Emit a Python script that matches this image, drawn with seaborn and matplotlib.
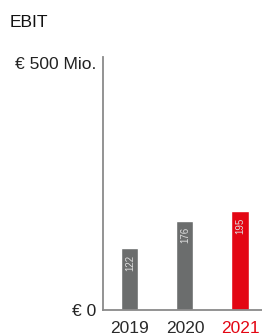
import matplotlib
matplotlib.use("Agg")
import matplotlib.pyplot as plt
import seaborn as sns
import pandas as pd

years = ["2019", "2020", "2021"]
ebit = [122, 176, 195]
bar_colors = ["#6b6d6d", "#6b6d6d", "#e30613"]
label_colors = ["#2a2a2a", "#2a2a2a", "#e30613"]

sns.set_theme(style="white")
plt.rcParams["font.family"] = ["Liberation Sans", "DejaVu Sans"]

df = pd.DataFrame({"year": years, "ebit": ebit})

fig = plt.figure(figsize=(2.62, 3.36), dpi=100)
ax = fig.add_axes([0.393, 0.077, 0.607, 0.753])
sns.barplot(data=df, x="year", y="ebit", hue="year", palette=bar_colors,
            width=0.31, legend=False, ax=ax, saturation=1)

ax.set_ylim(0, 500)
ax.set_xlim(-0.49, 2.4)
for s in ["top", "right"]:
    ax.spines[s].set_visible(False)
for s in ["left", "bottom"]:
    ax.spines[s].set_color("#8a8a8a")
    ax.spines[s].set_linewidth(1.3)
ax.set_xlabel("")
ax.set_ylabel("")
ax.set_yticks([0, 500])
ax.set_yticklabels(["€ 0", "€ 500 Mio."], fontsize=12.5, color="#222222")
ax.tick_params(axis="y", length=0, pad=5)
ax.tick_params(axis="x", length=0, pad=8)
ax.set_xticks(range(len(years)))
ax.set_xticklabels(years, fontsize=12.5)
for t, c in zip(ax.get_xticklabels(), label_colors):
    t.set_color(c)
ax.get_yticklabels()[1].set_va("top")

for i, v in enumerate(ebit):
    ax.text(i, v - 12, str(v), rotation=90, ha="center", va="top",
            fontsize=7, color="#dddddd")

fig.text(0.038, 0.932, "EBIT", fontsize=12.5, color="#111111", va="center")

fig.savefig("out.png", dpi=100)
